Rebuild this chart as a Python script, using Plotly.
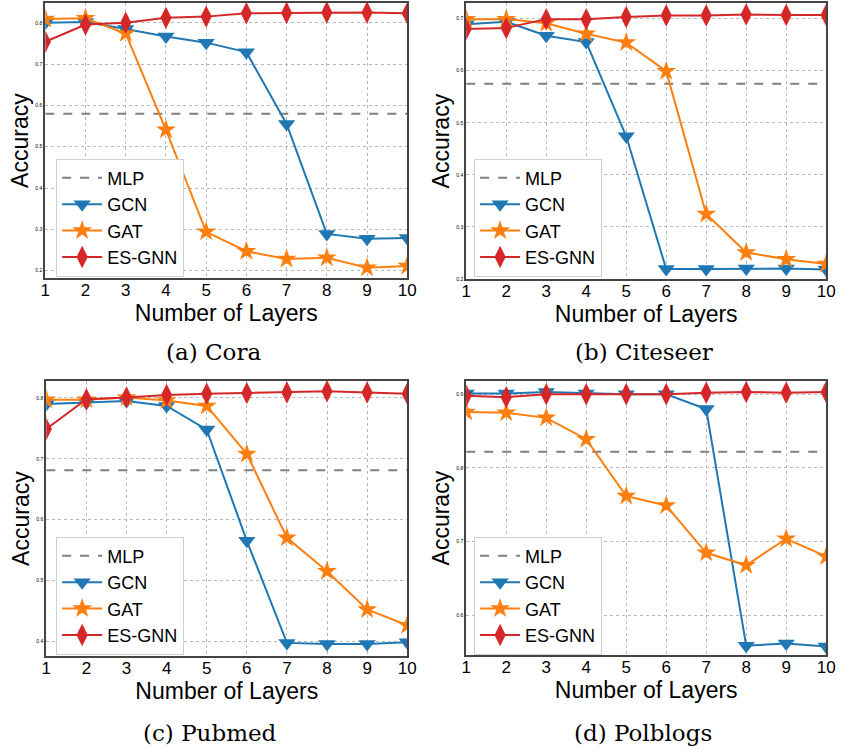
import plotly.graph_objects as go

layers = [1, 2, 3, 4, 5, 6, 7, 8, 9, 10]
x_ticks = [1, 2, 3, 4, 5, 6, 7, 8, 9, 10]

cora_gcn = [0.800, 0.802, 0.785, 0.767, 0.752, 0.729, 0.555, 0.289, 0.277, 0.279]
cora_gat = [0.809, 0.811, 0.774, 0.541, 0.294, 0.247, 0.228, 0.231, 0.207, 0.211]
cora_es = [0.754, 0.796, 0.800, 0.812, 0.815, 0.823, 0.824, 0.825, 0.825, 0.823]
cora_mlp = 0.580

citeseer_gcn = [0.689, 0.694, 0.667, 0.655, 0.474, 0.219, 0.219, 0.220, 0.220, 0.218]
citeseer_gat = [0.699, 0.699, 0.691, 0.671, 0.654, 0.599, 0.325, 0.251, 0.238, 0.229]
citeseer_es = [0.680, 0.682, 0.699, 0.699, 0.703, 0.706, 0.706, 0.708, 0.707, 0.707]
citeseer_mlp = 0.575

pubmed_gcn = [0.790, 0.792, 0.795, 0.787, 0.748, 0.565, 0.397, 0.395, 0.395, 0.398]
pubmed_gat = [0.797, 0.797, 0.801, 0.796, 0.787, 0.708, 0.570, 0.515, 0.452, 0.426]
pubmed_es = [0.749, 0.798, 0.801, 0.805, 0.807, 0.808, 0.809, 0.811, 0.809, 0.807]
pubmed_mlp = 0.681

polblogs_gcn = [0.901, 0.901, 0.903, 0.901, 0.900, 0.900, 0.880, 0.559, 0.562, 0.558]
polblogs_gat = [0.876, 0.875, 0.868, 0.839, 0.762, 0.749, 0.685, 0.668, 0.704, 0.680]
polblogs_es = [0.898, 0.896, 0.900, 0.900, 0.900, 0.900, 0.902, 0.903, 0.902, 0.903]
polblogs_mlp = 0.822

panels = [
    dict(name="(a) Cora", gcn=cora_gcn, gat=cora_gat, es=cora_es, mlp=cora_mlp,
         yrange=[0.1816, 0.848], yticks=[0.2, 0.3, 0.4, 0.5, 0.6, 0.7, 0.8]),
    dict(name="(b) Citeseer", gcn=citeseer_gcn, gat=citeseer_gat, es=citeseer_es, mlp=citeseer_mlp,
         yrange=[0.1995, 0.730], yticks=[0.2, 0.3, 0.4, 0.5, 0.6, 0.7]),
    dict(name="(c) Pubmed", gcn=pubmed_gcn, gat=pubmed_gat, es=pubmed_es, mlp=pubmed_mlp,
         yrange=[0.375, 0.828], yticks=[0.4, 0.5, 0.6, 0.7, 0.8]),
    dict(name="(d) Polblogs", gcn=polblogs_gcn, gat=polblogs_gat, es=polblogs_es, mlp=polblogs_mlp,
         yrange=[0.546, 0.918], yticks=[0.6, 0.7, 0.8, 0.9]),
]

W, H = 846, 753
# pixel boxes of plot areas (left, right, top, bottom)
boxes = [(41, 409, 3, 279), (469, 835, 3, 280), (42, 409, 382, 658), (469, 835, 382, 657)]
legend_pos = [(52, 159), (477, 159), (52, 538), (477, 538)]
caption_pos = [(212, 353), (650, 353), (208, 735), (649, 735)]

BLUE, ORANGE, RED, GRAY = "#1f77b4", "#ff7f0e", "#d62728", "#7f7f7f"

fig = go.Figure()
layout = dict(width=W, height=H, margin=dict(l=0, r=0, t=0, b=0),
              paper_bgcolor="white", plot_bgcolor="white", showlegend=True,
              font=dict(family="Liberation Sans, Arial, sans-serif", color="black"))
annotations = []

for i, p in enumerate(panels):
    k = i + 1
    xa = "x" if k == 1 else f"x{k}"
    ya = "y" if k == 1 else f"y{k}"
    lg = "legend" if k == 1 else f"legend{k}"
    l, r, t, b = boxes[i]
    fig.add_trace(go.Scatter(x=[1, 10], y=[p["mlp"], p["mlp"]], mode="lines", name="MLP",
                             line=dict(color=GRAY, width=2, dash="dash"),
                             xaxis=xa, yaxis=ya, legend=lg))
    fig.add_trace(go.Scatter(x=layers, y=p["gcn"], mode="lines+markers", name="GCN",
                             line=dict(color=BLUE, width=2),
                             marker=dict(symbol="triangle-down", size=15, color=BLUE),
                             xaxis=xa, yaxis=ya, legend=lg))
    fig.add_trace(go.Scatter(x=layers, y=p["gat"], mode="lines+markers", name="GAT",
                             line=dict(color=ORANGE, width=2),
                             marker=dict(symbol="star", size=15, color=ORANGE),
                             xaxis=xa, yaxis=ya, legend=lg))
    fig.add_trace(go.Scatter(x=layers, y=p["es"], mode="lines+markers", name="ES-GNN",
                             line=dict(color=RED, width=2),
                             marker=dict(symbol="diamond-tall", size=16, color=RED),
                             xaxis=xa, yaxis=ya, legend=lg))
    axis_common = dict(showline=True, linecolor="#444", linewidth=2, mirror=True,
                       showgrid=True, gridcolor="#b8b8b8", griddash="dot", gridwidth=1,
                       zeroline=False, ticks="")
    layout["xaxis" if k == 1 else f"xaxis{k}"] = dict(
        axis_common, domain=[l / W, r / W], anchor=ya, range=[1, 10],
        tickvals=x_ticks, ticktext=[str(v) for v in x_ticks], ticklabelstandoff=-5,
        tickfont=dict(size=17), title=dict(text="Number of Layers", font=dict(size=23), standoff=0))
    layout["yaxis" if k == 1 else f"yaxis{k}"] = dict(
        axis_common, domain=[1 - b / H, 1 - t / H], anchor=xa, range=p["yrange"],
        tickvals=p["yticks"], ticktext=[f"{v:.1f}" for v in p["yticks"]],
        tickfont=dict(size=5), title=dict(text="Accuracy", font=dict(size=23), standoff=0))
    lx, ly = legend_pos[i]
    layout[lg] = dict(x=lx / W, y=1 - ly / H, xanchor="left", yanchor="top",
                      bgcolor="white", bordercolor="#d0d0d0", borderwidth=1,
                      font=dict(size=18), itemwidth=40)
    cx, cy = caption_pos[i]
    annotations.append(dict(text=p["name"], x=cx / W, y=1 - cy / H, xref="paper", yref="paper",
                            showarrow=False, xanchor="center", yanchor="middle",
                            font=dict(family="DejaVu Serif, serif", size=23, color="black")))

layout["annotations"] = annotations
fig.update_layout(**layout)
fig.write_html("out.html")
